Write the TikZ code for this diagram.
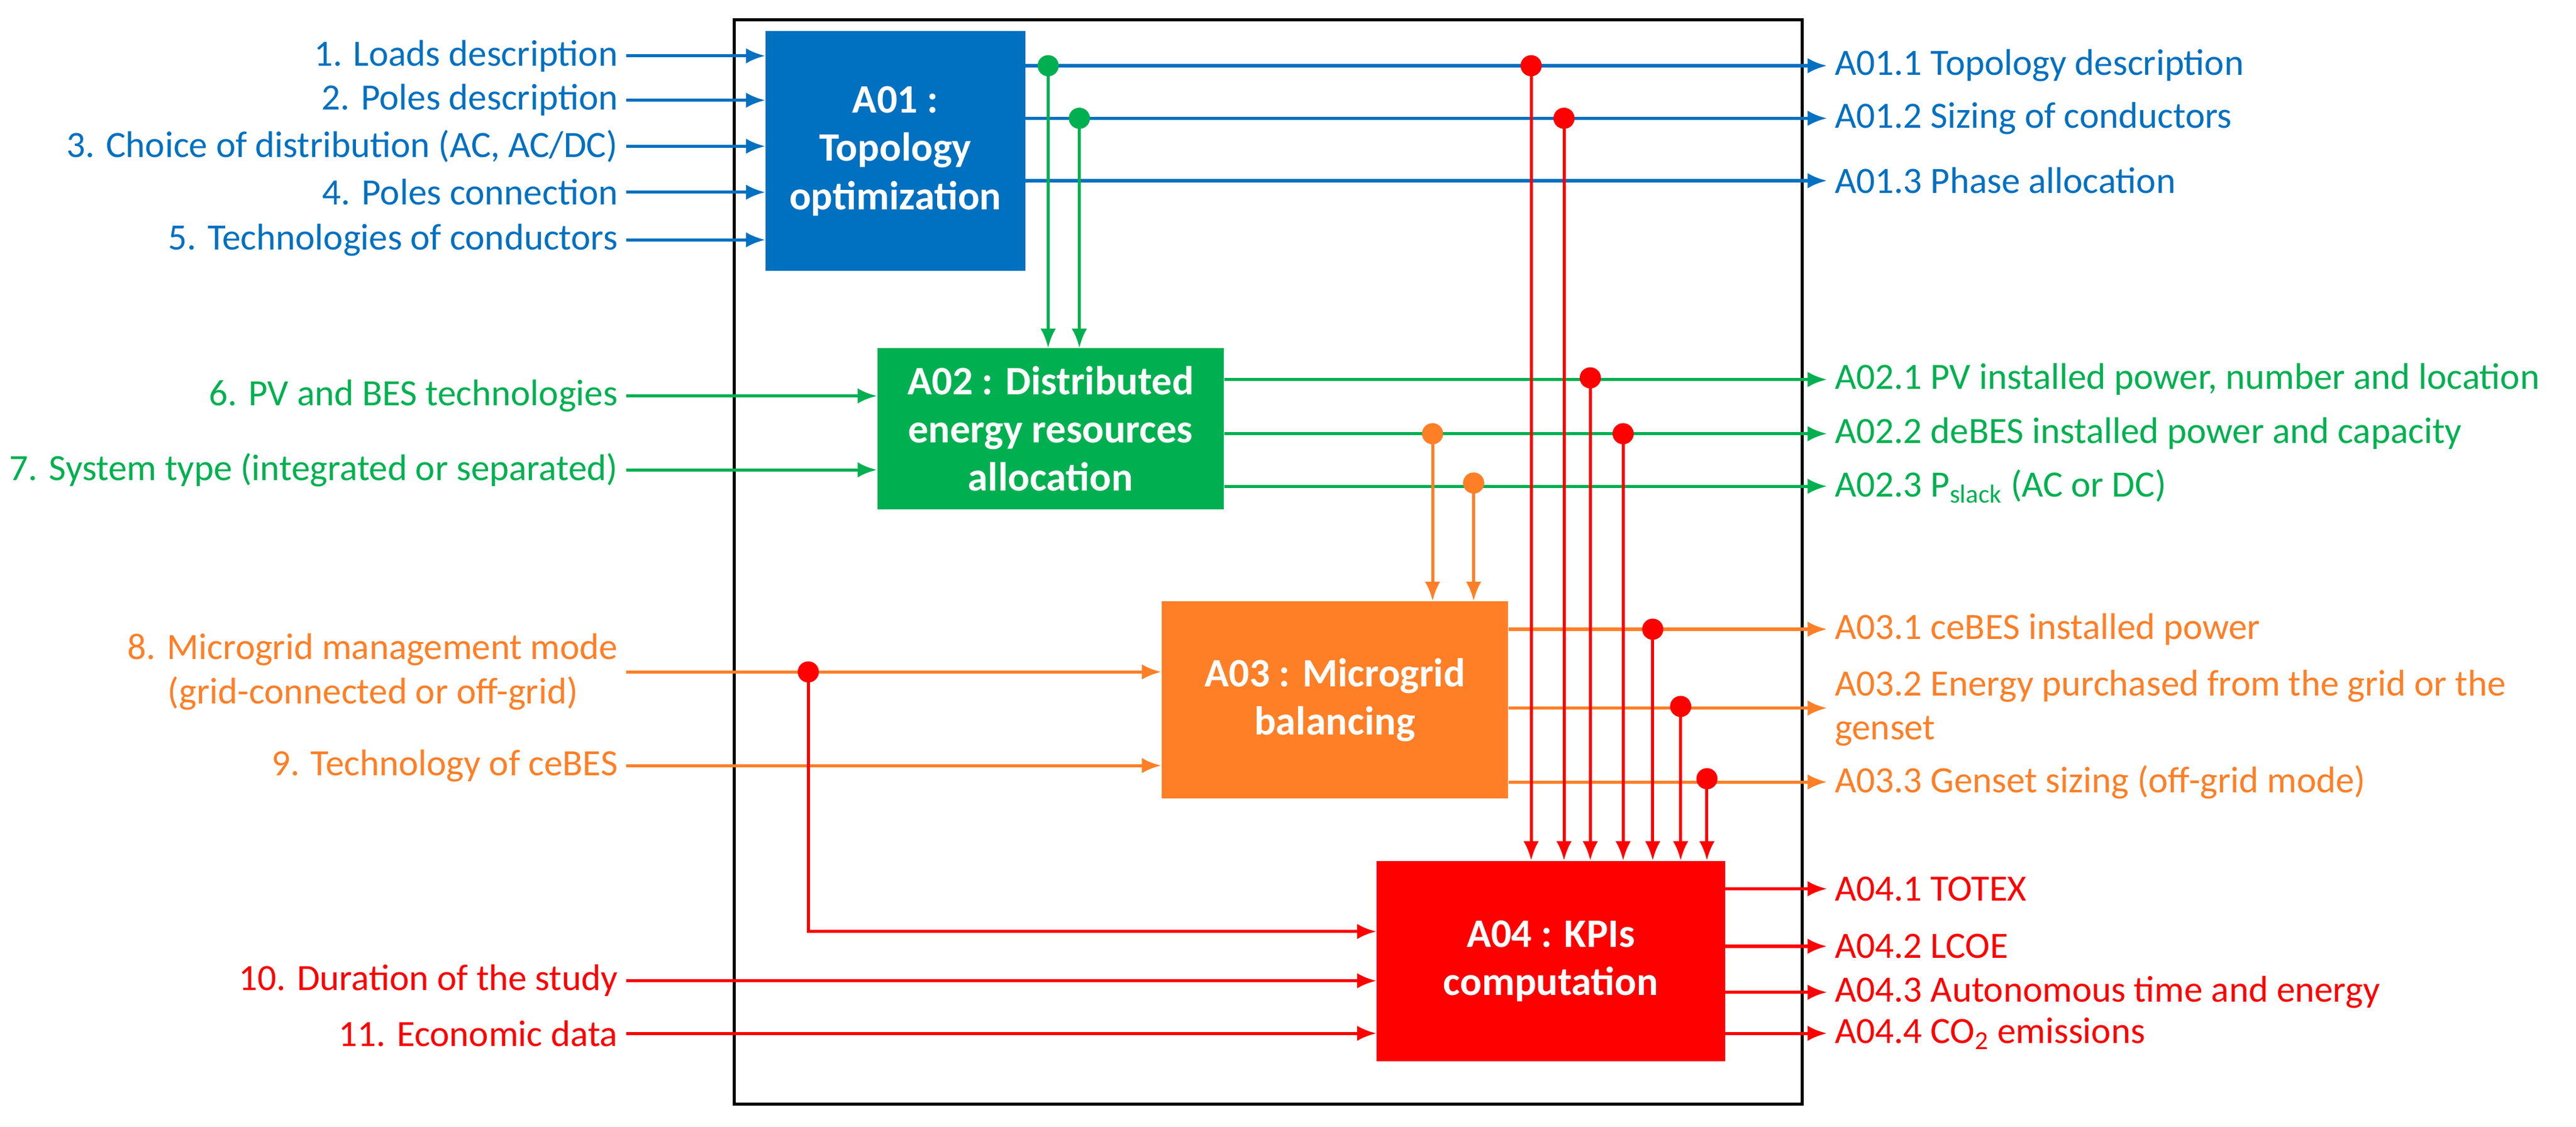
\documentclass[tikz,border=0pt]{standalone}
\usepackage{fontspec}
\setmainfont{Carlito}
\usetikzlibrary{arrows.meta}
\definecolor{cb}{HTML}{0070C0}
\definecolor{cg}{HTML}{00B050}
\definecolor{co}{HTML}{FF7F27}
\definecolor{cr}{HTML}{FF0000}
\begin{document}
\begin{tikzpicture}[x=0.03cm,y=-0.03cm,
  ln/.style={line width=1.6pt,-{Latex[length=10pt,width=8pt]}},
  box/.style={draw=none,text=white,font=\bfseries\fontsize{21}{25}\selectfont,align=center,inner sep=0pt},
  inp/.style={anchor=east,font=\fontsize{19.3}{23}\selectfont,inner sep=4pt,align=right},
  outp/.style={anchor=west,font=\fontsize{19.3}{23}\selectfont,inner sep=4pt,align=left},
  dot/.style={circle,fill,inner sep=0pt,minimum size=11pt}]
\useasboundingbox (0,0) rectangle (1568,686);
\draw[line width=1.5pt] (447,12) rectangle (1097,672);
% boxes
\node[box,fill=cb,minimum width=158*0.03cm,minimum height=146*0.03cm] (A01) at (545,92) {A01 :\\Topology\\optimization};
\node[box,fill=cg,minimum width=211*0.03cm,minimum height=98*0.03cm] (A02) at (639.5,261) {A02 : Distributed\\energy resources\\allocation};
\node[box,fill=co,minimum width=211*0.03cm,minimum height=120*0.03cm] (A03) at (812.5,426) {A03 : Microgrid\\balancing};
\node[box,fill=cr,minimum width=212*0.03cm,minimum height=122*0.03cm] (A04) at (944,585) {A04 : KPIs\\computation};
% inputs
\begin{scope}[cb]
\node[inp] (i1) at (381,34) {1. Loads description};
\node[inp] (i2) at (381,61) {2. Poles description};
\node[inp] (i3) at (381,89) {3. Choice of distribution (AC, AC/DC)};
\node[inp] (i4) at (381,117) {4. Poles connection};
\node[inp] (i5) at (381,146) {5. Technologies of conductors};
\foreach \i in {1,...,5} \draw[ln] (i\i.east) -- (i\i.east -| A01.west);
\end{scope}
\begin{scope}[cg]
\node[inp] (i6) at (381,241) {6. PV and BES technologies};
\node[inp] (i7) at (381,286) {7. System type (integrated or separated)};
\foreach \i in {6,7} \draw[ln] (i\i.east) -- (i\i.east -| A02.west);
\end{scope}
\begin{scope}[co]
\node[inp,align=center] (i8) at (381,409) {8. Microgrid management mode\\(grid-connected or off-grid)};
\node[inp] (i9) at (381,466) {9. Technology of ceBES};
\draw[ln] (i8.east) -- (i8.east -| A03.west);
\draw[ln] (i9.east) -- (i9.east -| A03.west);
\end{scope}
\begin{scope}[cr]
\node[inp] (i10) at (381,597) {10. Duration of the study};
\node[inp] (i11) at (381,629) {11. Economic data};
\draw[ln] (i10.east) -- (i10.east -| A04.west);
\draw[ln] (i11.east) -- (i11.east -| A04.west);
\coordinate (k) at (492,567);
\node[dot] (d8) at (492,409) {};
\draw[ln] (d8.center) -- (k) -- (k -| A04.west);
\end{scope}
% outputs
\begin{scope}[cb]
\node[outp] (o1) at (1112,40) {A01.1 Topology description};
\node[outp] (o2) at (1112,72) {A01.2 Sizing of conductors};
\node[outp] (o3) at (1112,110) {A01.3 Phase allocation};
\foreach \i in {1,2,3} \draw[ln] (o\i.west -| A01.east) -- (o\i.west);
\end{scope}
\begin{scope}[cg]
\node[outp] (o4) at (1112,231) {A02.1 PV installed power, number and location};
\node[outp] (o5) at (1112,264) {A02.2 deBES installed power and capacity};
\node[outp] (o6) at (1112,296) {A02.3 P\textsubscript{slack} (AC or DC)};
\foreach \i in {4,5,6} \draw[ln] (o\i.west -| A02.east) -- (o\i.west);
\node[dot] (g1) at (638,40) {};
\node[dot] (g2) at (657,72) {};
\draw[ln] (g1.center) -- (g1.center |- A02.north);
\draw[ln] (g2.center) -- (g2.center |- A02.north);
\end{scope}
\begin{scope}[co]
\node[outp] (o7) at (1112,383) {A03.1 ceBES installed power};
\node[outp] (o8) at (1112,431) {A03.2 Energy purchased from the grid or the\\genset};
\node[outp] (o9) at (1112,476) {A03.3 Genset sizing (off-grid mode)};
\draw[ln] (o7.west -| A03.east) -- (o7.west);
\draw[ln] (A03.east |- 0,431) -- (o8.west);
\draw[ln] (o9.west -| A03.east) -- (o9.west);
\node[dot] (p1) at (872,264) {};
\node[dot] (p2) at (897,294) {};
\draw[ln] (p1.center) -- (p1.center |- A03.north);
\draw[ln] (p2.center) -- (p2.center |- A03.north);
\end{scope}
\begin{scope}[cr]
\node[outp] (o10) at (1112,541) {A04.1 TOTEX};
\node[outp] (o11) at (1112,576) {A04.2 LCOE};
\node[outp] (o12) at (1112,604) {A04.3 Autonomous time and energy};
\node[outp] (o13) at (1112,629) {A04.4 CO\textsubscript{2} emissions};
\foreach \i in {10,...,13} \draw[ln] (o\i.west -| A04.east) -- (o\i.west);
\node[dot] (r1) at (932,40) {};
\node[dot] (r2) at (952,72) {};
\node[dot] (r3) at (968,230) {};
\node[dot] (r4) at (988,264) {};
\node[dot] (r5) at (1006,383) {};
\node[dot] (r6) at (1023,430) {};
\node[dot] (r7) at (1039,474) {};
\foreach \i in {1,...,7} \draw[ln] (r\i.center) -- (r\i.center |- A04.north);
\end{scope}
\end{tikzpicture}
\end{document}
